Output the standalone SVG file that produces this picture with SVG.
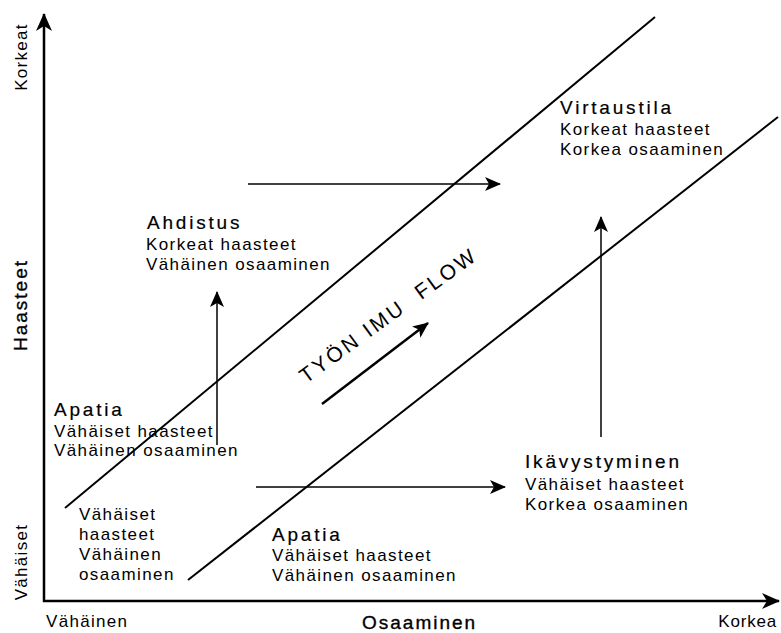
<svg xmlns="http://www.w3.org/2000/svg" width="781" height="633" viewBox="0 0 781 633">
<defs>
<style>
text{font-family:"Liberation Sans",Arial,sans-serif;fill:#000}
.b{font-size:17px;letter-spacing:1.4px}
.t{font-size:19px;letter-spacing:2.8px;stroke:#000;stroke-width:0.2}
.ax{font-size:17px;letter-spacing:1.3px}
.axb{font-size:19px;letter-spacing:2px;stroke:#000;stroke-width:0.35}
.ln{stroke:#000;stroke-width:2;fill:none}
.ar{stroke:#000;stroke-width:1.5;fill:none}
</style>
<marker id="ah" viewBox="0 0 16 14" refX="15" refY="7" markerWidth="16" markerHeight="14" markerUnits="userSpaceOnUse" orient="auto">
<path d="M0,0 L16,7 L0,14 L4,7 Z" fill="#000"/>
</marker>
<marker id="ahx" viewBox="0 0 18 16" refX="17" refY="8" markerWidth="18" markerHeight="16" markerUnits="userSpaceOnUse" orient="auto">
<path d="M0,0 L18,8 L0,16 L5,8 Z" fill="#000"/>
</marker>
</defs>
<rect width="781" height="633" fill="#fff"/>
<g id="axes">
<line x1="44" y1="602" x2="44" y2="14" stroke="#000" stroke-width="2.5" marker-end="url(#ahx)"/>
<line x1="43" y1="601" x2="779" y2="601" stroke="#000" stroke-width="2.5" marker-end="url(#ahx)"/>
<text class="ax" transform="translate(27,57) rotate(-90)" text-anchor="middle">Korkeat</text>
<text class="axb" transform="translate(27,305) rotate(-90)" text-anchor="middle">Haasteet</text>
<text class="ax" transform="translate(27,562) rotate(-90)" text-anchor="middle">Vähäiset</text>
<text class="ax" x="46" y="627">Vähäinen</text>
<text class="axb" x="362" y="629">Osaaminen</text>
<text class="ax" x="777" y="627" text-anchor="end" style="letter-spacing:0.8px">Korkea</text>
</g>
<g id="connectors">
<line class="ln" x1="65" y1="508" x2="655" y2="17"/>
<line class="ln" x1="188" y1="580" x2="778" y2="117"/>
<line class="ar" x1="248" y1="184" x2="500" y2="184" marker-end="url(#ah)"/>
<line class="ar" x1="256" y1="487" x2="505" y2="487" marker-end="url(#ah)"/>
<line class="ar" x1="217" y1="445" x2="217" y2="292" marker-end="url(#ah)"/>
<line class="ar" x1="601" y1="437" x2="601" y2="217" marker-end="url(#ah)"/>
<line x1="322" y1="404" x2="428" y2="323" stroke="#000" stroke-width="2.5" marker-end="url(#ah)"/>
</g>
<g id="flow">
<text xml:space="preserve" transform="translate(306,384) rotate(-36)" style="font-size:21px;letter-spacing:2.8px;white-space:pre">TYÖN IMU  FLOW</text>
</g>
<g id="virtaustila">
<text class="t" x="560" y="114">Virtaustila</text>
<text class="b" x="560" y="135">Korkeat haasteet</text>
<text class="b" x="560" y="155">Korkea osaaminen</text>
</g>
<g id="ahdistus">
<text class="t" x="147" y="229">Ahdistus</text>
<text class="b" x="146" y="250">Korkeat haasteet</text>
<text class="b" x="146" y="270">Vähäinen osaaminen</text>
</g>
<g id="apatia1">
<text class="t" x="54" y="416">Apatia</text>
<text class="b" x="54" y="437">Vähäiset haasteet</text>
<text class="b" x="54" y="456">Vähäinen osaaminen</text>
</g>
<g id="vahaiset">
<text class="b" x="79" y="520">Vähäiset</text>
<text class="b" x="79" y="540">haasteet</text>
<text class="b" x="79" y="560">Vähäinen</text>
<text class="b" x="79" y="580">osaaminen</text>
</g>
<g id="apatia2">
<text class="t" x="272" y="541">Apatia</text>
<text class="b" x="272" y="561">Vähäiset haasteet</text>
<text class="b" x="272" y="581">Vähäinen osaaminen</text>
</g>
<g id="ikavystyminen">
<text class="t" x="525" y="468">Ikävystyminen</text>
<text class="b" x="525" y="490">Vähäiset haasteet</text>
<text class="b" x="525" y="510">Korkea osaaminen</text>
</g>
</svg>
